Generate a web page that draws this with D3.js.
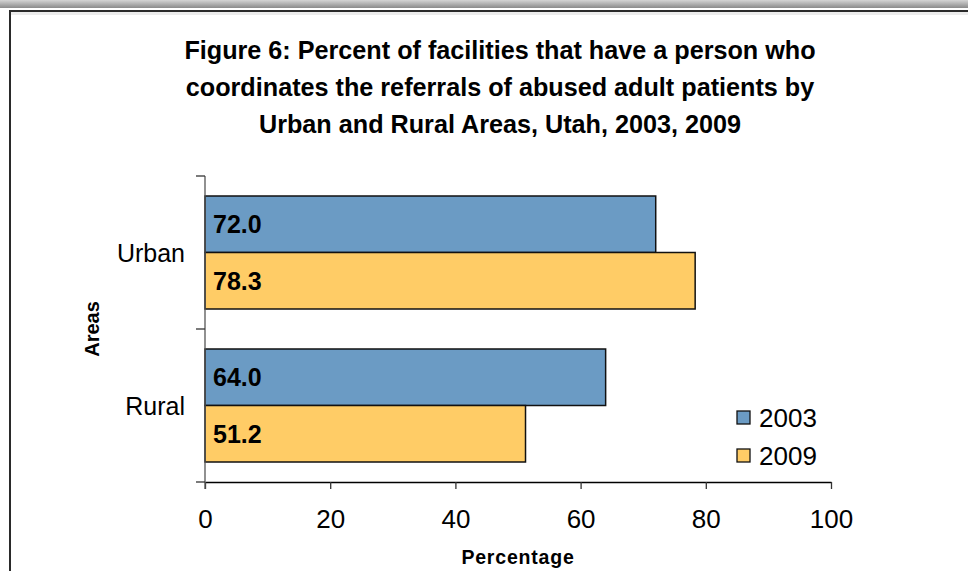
<!DOCTYPE html>
<html><head><meta charset="utf-8">
<script src="https://cdn.jsdelivr.net/npm/d3@7"></script>
<style>body{margin:0;background:#fff}svg{display:block;font-family:"Liberation Sans",Arial,sans-serif}</style>
</head><body>
<svg id="c" width="968" height="571"></svg>
<script>
const categories = ["Urban", "Rural"];
const seriesNames = ["2003", "2009"];
const values2003 = [72.0, 64.0];
const values2009 = [78.3, 51.2];
const xTicks = [0, 20, 40, 60, 80, 100];
const titleLines = ["Figure 6: Percent of facilities that have a person who",
  "coordinates the referrals of abused adult patients by",
  "Urban and Rural Areas, Utah, 2003, 2009"];
const colors = ["#6b9bc4", "#ffcc66"];

const svg = d3.select("#c");
const defs = svg.append("defs");
const g1 = defs.append("linearGradient").attr("id","topg").attr("x1",0).attr("y1",0).attr("x2",0).attr("y2",1);
g1.append("stop").attr("offset","0%").attr("stop-color","#d4d4d4");
g1.append("stop").attr("offset","100%").attr("stop-color","#8a8a8a");
svg.append("rect").attr("x",0).attr("y",0).attr("width",968).attr("height",8).attr("fill","url(#topg)");
svg.append("rect").attr("x",9).attr("y",12).attr("width",959).attr("height",3).attr("fill","#ececec");
svg.append("rect").attr("x",9).attr("y",10).attr("width",959).attr("height",2).attr("fill","#2a2a2a");
svg.append("rect").attr("x",9).attr("y",10).attr("width",2).attr("height",561).attr("fill","#2a2a2a");

// title
svg.append("g").selectAll("text").data(titleLines).join("text")
  .attr("x",500).attr("y",(d,i)=>59+i*37).attr("text-anchor","middle")
  .attr("font-weight","bold").attr("font-size",25.2).attr("fill","#000").text(d=>d);

const x = d3.scaleLinear().domain([0,100]).range([205,831]);
const y = d3.scaleBand().domain(categories).range([176,482]);
const inner = d3.scaleBand().domain(seriesNames).range([0,113]);
const off = (y.bandwidth()-113)/2;

const data = categories.map((c,i)=>({cat:c, vals:[values2003[i], values2009[i]]}));
const grp = svg.append("g").selectAll("g").data(data).join("g")
  .attr("transform",d=>`translate(0,${y(d.cat)+off})`);
grp.selectAll("rect").data(d=>d.vals.map((v,j)=>({v,s:seriesNames[j],j}))).join("rect")
  .attr("x",x(0)).attr("y",d=>inner(d.s)).attr("width",d=>x(d.v)-x(0)).attr("height",inner.bandwidth())
  .attr("fill",d=>colors[d.j]).attr("stroke","#111").attr("stroke-width",1.5);
grp.selectAll("text").data(d=>d.vals.map((v,j)=>({v,s:seriesNames[j]}))).join("text")
  .attr("x",x(0)+8).attr("y",d=>inner(d.s)+inner.bandwidth()/2+9)
  .attr("font-weight","bold").attr("font-size",25).attr("fill","#000").text(d=>d.v.toFixed(1));

// x axis
const xa = svg.append("g").attr("transform","translate(0,482)")
  .call(d3.axisBottom(x).tickValues(xTicks).tickSize(7).tickSizeOuter(0).tickPadding(21));
xa.select(".domain").attr("stroke","#000").attr("stroke-width",1.3);
xa.selectAll(".tick line").attr("stroke","#333").attr("stroke-width",1.3);
xa.selectAll("text").attr("font-size",26).attr("fill","#000").attr("font-family","Liberation Sans, Arial, sans-serif");

// y axis
const ya = svg.append("g").attr("transform","translate(205,0)");
ya.append("line").attr("x1",0).attr("x2",0).attr("y1",176).attr("y2",489).attr("stroke","#555").attr("stroke-width",1.3);
ya.selectAll("line.t").data(categories.map(c=>y(c)).concat([y.range()[1]])).join("line").attr("class","t")
  .attr("x1",-9).attr("x2",0).attr("y1",d=>d).attr("y2",d=>d).attr("stroke","#333").attr("stroke-width",1.3);
ya.selectAll("text").data(categories).join("text")
  .attr("x",-20).attr("y",d=>y(d)+y.bandwidth()/2+9).attr("text-anchor","end")
  .attr("font-size",25).attr("fill","#000").text(d=>d);

// axis titles
svg.append("text").attr("transform","translate(99,329) rotate(-90)").attr("text-anchor","middle")
  .attr("font-weight","bold").attr("font-size",20).attr("fill","#000").text("Areas");
svg.append("text").attr("x",518).attr("y",564).attr("text-anchor","middle")
  .attr("font-weight","bold").attr("font-size",19.5).attr("letter-spacing",0.8).attr("fill","#000").text("Percentage");

// legend
const lg = svg.append("g").selectAll("g").data(seriesNames).join("g")
  .attr("transform",(d,i)=>`translate(737,${411+i*38})`);
lg.append("rect").attr("width",13).attr("height",13).attr("fill",(d,i)=>colors[i]).attr("stroke","#111").attr("stroke-width",1.3);
lg.append("text").attr("x",22).attr("y",16).attr("font-size",26).attr("fill","#000").text(d=>d);
</script>
</body></html>
